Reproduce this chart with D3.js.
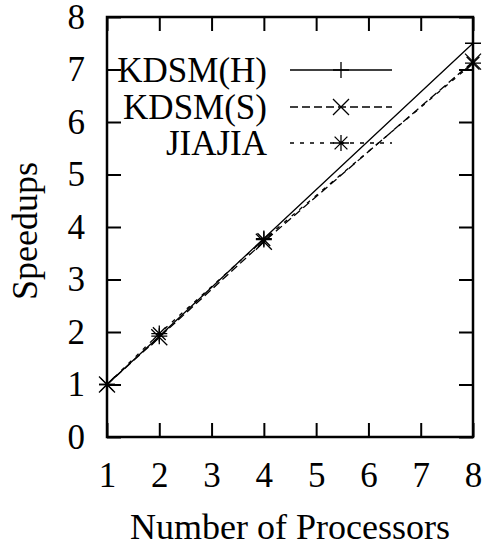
<!DOCTYPE html>
<html>
<head>
<meta charset="utf-8">
<script src="https://cdn.jsdelivr.net/npm/d3@7"></script>
<style>
  body { margin: 0; background: white; }
  text { font-family: "Liberation Serif", "Times New Roman", serif; fill: black; }
</style>
</head>
<body>
<div id="chart"></div>
<script>
//Data
var processors=[1,2,4,8];
var kdsmH=[1,1.92,3.78,7.5];
var kdsmS=[1,1.9,3.72,7.15];
var jiajia=[1,1.97,3.76,7.12];
var seriesNames=["KDSM(H)","KDSM(S)","JIAJIA"];
var xTicks=[1,2,3,4,5,6,7,8];
var yTicks=[0,1,2,3,4,5,6,7,8];

//Dimensions (plot box edges)
var w=483;
var h=549;
var boxL=107, boxR=473, boxT=17, boxB=437;
var fs=35;

var svg=d3.select("#chart")
          .append("svg")
          .attr("width",w)
          .attr("height",h);

var x=d3.scaleLinear().domain([1,8]).range([boxL,boxR]);
var y=d3.scaleLinear().domain([0,8]).range([boxB,boxT]);

//Tick marks go inward on all four sides, gnuplot style
var tickLen=14;
var xAxisB=d3.axisBottom(x).tickValues(xTicks).tickSize(-tickLen).tickPadding(tickLen+11).tickFormat(d3.format("d"));
var xAxisT=d3.axisTop(x).tickValues(xTicks).tickSize(-tickLen).tickFormat("");
var yAxisL=d3.axisLeft(y).tickValues(yTicks).tickSize(-tickLen).tickPadding(tickLen+8).tickFormat(d3.format("d"));
var yAxisR=d3.axisRight(y).tickValues(yTicks).tickSize(-tickLen).tickFormat("");

function styleAxis(g) {
    g.select(".domain").remove();
    g.selectAll(".tick line").attr("stroke","black").attr("stroke-width",2);
    g.selectAll(".tick text").style("font-size",fs+"px").style("font-family","Liberation Serif");
}

svg.append("g").attr("transform","translate(0,"+boxB+")").call(xAxisB).call(styleAxis);
svg.append("g").attr("transform","translate(0,"+boxT+")").call(xAxisT).call(styleAxis);
svg.append("g").attr("transform","translate("+boxL+",0)").call(yAxisL).call(styleAxis);
svg.append("g").attr("transform","translate("+boxR+",0)").call(yAxisR).call(styleAxis);

//Border
svg.append("rect")
   .attr("x",boxL)
   .attr("y",boxT)
   .attr("width",boxR-boxL)
   .attr("height",boxB-boxT)
   .attr("fill","none")
   .attr("stroke","black")
   .attr("stroke-width",2.5);

//Axis titles
svg.append("text")
   .text("Number of Processors")
   .attr("x",(boxL+boxR)/2)
   .attr("y",539)
   .attr("text-anchor","middle")
   .style("font-size","36px");
svg.append("text")
   .text("Speedups")
   .attr("transform","translate(37,"+((boxT+boxB)/2+4)+") rotate(-90)")
   .attr("text-anchor","middle")
   .style("font-size","36px");

//Marker shapes
function plusPath(cx,cy,r) {
    return "M"+(cx-r)+","+cy+"H"+(cx+r)+"M"+cx+","+(cy-r)+"V"+(cy+r);
}
function crossPath(cx,cy,r) {
    return "M"+(cx-r)+","+(cy-r)+"L"+(cx+r)+","+(cy+r)+"M"+(cx-r)+","+(cy+r)+"L"+(cx+r)+","+(cy-r);
}
function starPath(cx,cy,r) {
    return plusPath(cx,cy,r)+crossPath(cx,cy,r*0.8);
}

var series=[
    {name:seriesNames[0],values:kdsmH,dash:null,marker:plusPath},
    {name:seriesNames[1],values:kdsmS,dash:"8,4",marker:crossPath},
    {name:seriesNames[2],values:jiajia,dash:"4,6",marker:starPath}
];

var line=d3.line()
           .x(function(d) {return x(d[0]);})
           .y(function(d) {return y(d[1]);});

var plot=svg.append("g");
series.forEach(function(s) {
    var pts=processors.map(function(p,i) {return [p,s.values[i]];});
    plot.append("path")
        .attr("d",line(pts))
        .attr("fill","none")
        .attr("stroke","black")
        .attr("stroke-width",1.3)
        .attr("stroke-dasharray",s.dash);
    pts.forEach(function(p) {
        plot.append("path")
            .attr("d",s.marker(x(p[0]),y(p[1]),8))
            .attr("stroke","black")
            .attr("stroke-width",1.3)
            .attr("fill","none");
    });
});

//Legend
var legendY=[70,107,143];
series.forEach(function(s,i) {
    svg.append("text")
       .text(s.name)
       .attr("x",267)
       .attr("y",legendY[i])
       .attr("dy","0.35em")
       .attr("text-anchor","end")
       .style("font-size",fs+"px");
    svg.append("line")
       .attr("x1",290)
       .attr("x2",392)
       .attr("y1",legendY[i])
       .attr("y2",legendY[i])
       .attr("stroke","black")
       .attr("stroke-width",1.3)
       .attr("stroke-dasharray",s.dash);
    svg.append("path")
       .attr("d",s.marker(341,legendY[i],8))
       .attr("stroke","black")
       .attr("stroke-width",1.3)
       .attr("fill","none");
});
</script>
</body>
</html>
